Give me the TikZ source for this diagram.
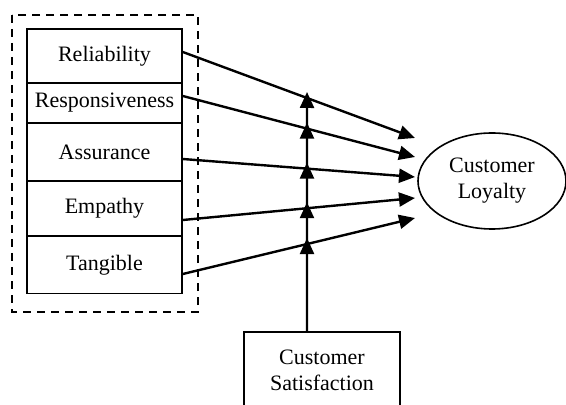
\documentclass[tikz,border=0pt]{standalone}
\usepackage{fontspec}
\setmainfont{Liberation Serif}
\usetikzlibrary{shapes,arrows.meta,calc}
\tikzstyle{dimbox}=[draw,line width=0.8pt,minimum width=77.5pt,inner sep=0pt,font=\fontsize{11}{13}\selectfont]
\tikzstyle{arr}=[line width=1.2pt,-{Triangle[length=8pt,width=7pt]}]

\begin{document}
\begin{tikzpicture}[x=0.5pt,y=-0.5pt]
\useasboundingbox (0,0) rectangle (566,405);
% service quality dimensions
\node[dimbox,minimum height=27pt] (rel) at (104.5,56) {Reliability};
\node[dimbox,minimum height=20pt] (res) at (104.5,103) {Responsiveness};
\node[dimbox,minimum height=29pt] (ass) at (104.5,152) {Assurance};
\node[dimbox,minimum height=27.5pt] (emp) at (104.5,208.5) {Empathy};
\node[dimbox,minimum height=28.5pt] (tan) at (104.5,265) {Tangible};
\draw[line width=0.8pt,dash pattern=on 4pt off 3pt] (12,15) rectangle (198,312);
% outcome and moderator
\node[draw,ellipse,line width=0.8pt,minimum width=74pt,minimum height=48pt,align=center,font=\fontsize{11}{13}\selectfont] (loy) at (492,181) {Customer\\Loyalty};
\node[dimbox,minimum width=78pt,minimum height=38pt,align=center] (sat) at (322,370) {Customer\\Satisfaction};
% ends of the arrows
\coordinate (s1) at ($(rel.east)+(0,-4)$);
\coordinate (s2) at ($(res.east)+(0,-7)$);
\coordinate (s3) at ($(ass.east)+(0,7)$);
\coordinate (s4) at ($(emp.east)+(0,11.5)$);
\coordinate (s5) at ($(tan.east)+(0,9)$);
\coordinate (t1) at (415,138);
\coordinate (t2) at (415,157);
\coordinate (t3) at (415,177);
\coordinate (t4) at (415,198);
\coordinate (t5) at (415,218);
\coordinate (v0) at ($(sat.north)+(-15,0)$);
\coordinate (top) at ($(v0)+(0,-260)$);
\coordinate (i1) at (intersection cs: first line={(s1)--(t1)}, second line={(v0)--(top)});
\coordinate (i2) at (intersection cs: first line={(s2)--(t2)}, second line={(v0)--(top)});
\coordinate (i3) at (intersection cs: first line={(s3)--(t3)}, second line={(v0)--(top)});
\coordinate (i4) at (intersection cs: first line={(s4)--(t4)}, second line={(v0)--(top)});
\coordinate (i5) at (intersection cs: first line={(s5)--(t5)}, second line={(v0)--(top)});
\foreach \i in {1,...,5}
  \draw[arr] (s\i) -- (t\i);
\foreach \a/\b in {v0/i5,i5/i4,i4/i3,i3/i2,i2/i1}
  \draw[arr,shorten >=-3pt] (\a) -- (\b);
\end{tikzpicture}
\end{document}
